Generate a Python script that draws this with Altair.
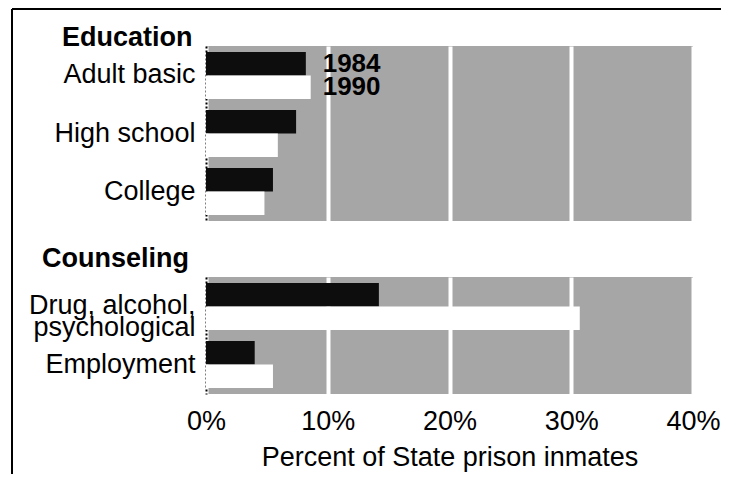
import altair as alt
import pandas as pd

FONT = "Liberation Sans"

# ---- data ----
years = ["1984", "1990"]
edu_categories = ["Adult basic", "High school", "College"]
edu_1984 = [8.2, 7.4, 5.5]
edu_1990 = [8.6, 5.9, 4.8]
cou_categories = ["Drug, alcohol, psychological", "Employment"]
cou_1984 = [14.2, 4.0]
cou_1990 = [30.7, 5.5]
x_ticks = [0, 10, 20, 30, 40]
group_titles = ["Education", "Counseling"]


def to_long(cats, v84, v90):
    rows = []
    for c, a, b in zip(cats, v84, v90):
        rows.append({"category": c, "year": "1984", "value": a})
        rows.append({"category": c, "year": "1990", "value": b})
    return pd.DataFrame(rows)


edu = to_long(edu_categories, edu_1984, edu_1990)
cou = to_long(cou_categories, cou_1984, cou_1990)

ann = pd.DataFrame({
    "category": [edu_categories[0]] * 2,
    "year": years,
    "text": years,
    "lx": [max(edu_1984[0], edu_1990[0])] * 2,
})

x_scale = alt.Scale(domain=[0, 40], nice=False, zero=True)
color = alt.Color("year:N", scale=alt.Scale(domain=years, range=["#0d0d0d", "#ffffff"]), legend=None)
y_offset = alt.YOffset("year:N", sort=years, scale=alt.Scale(paddingInner=0, paddingOuter=0))

label_expr = ("datum.label == 'Drug, alcohol, psychological' ? "
              "['Drug, alcohol,', 'psychological'] : datum.label")


def y_enc(cats):
    return alt.Y(
        "category:N", sort=cats, title=None,
        scale=alt.Scale(paddingInner=0.19, paddingOuter=0.103),
        axis=alt.Axis(title=None, ticks=False, domain=True, domainDash=[2, 2],
                      domainWidth=2, domainColor="black", labelFont=FONT,
                      labelFontSize=27, labelColor="black", labelPadding=11,
                      labelLineHeight=22, labelExpr=label_expr),
    )


x_axis_plain = alt.Axis(values=x_ticks, labels=False, ticks=False, domain=False,
                        title=None, grid=True, gridColor="white", gridWidth=4)
x_axis_full = alt.Axis(values=x_ticks, labelExpr="datum.value + '%'",
                       title="Percent of State prison inmates", grid=True,
                       gridColor="white", gridWidth=4, ticks=False, domain=False,
                       labelFont=FONT, labelFontSize=27, labelColor="black",
                       labelFlush=False, labelPadding=14, titleFont=FONT,
                       titleFontSize=27, titleFontWeight="normal",
                       titleColor="black", titlePadding=10)

edu_bars = alt.Chart(edu).mark_bar().encode(
    x=alt.X("value:Q", scale=x_scale, axis=x_axis_plain, title=None),
    y=y_enc(edu_categories),
    yOffset=y_offset,
    color=color,
)

edu_text = alt.Chart(ann).mark_text(
    align="left", baseline="middle", dx=12, font=FONT, fontSize=26,
    fontWeight="bold", color="black",
).encode(
    x=alt.X("lx:Q", scale=x_scale, axis=x_axis_plain, title=None),
    y=y_enc(edu_categories),
    yOffset=y_offset,
    text="text:N",
)

one = pd.DataFrame({"k": [0]})
left_line = alt.Chart(one).mark_rule(color="black", strokeWidth=2).encode(
    x=alt.value(-194), y=alt.value(-37), y2=alt.value(428))
top_line = alt.Chart(one).mark_rule(color="black", strokeWidth=2).encode(
    x=alt.value(-194), x2=alt.value(515), y=alt.value(-37))


def heading(text, dx, dy):
    return alt.Chart(pd.DataFrame({"t": [text]})).mark_text(
        align="left", baseline="alphabetic", font=FONT, fontSize=27,
        fontWeight="bold", color="black",
    ).encode(x=alt.value(dx), y=alt.value(dy), text="t:N")


edu_chart = alt.layer(
    edu_bars, edu_text, left_line, top_line, heading(group_titles[0], -144, 0)
).properties(width=487, height=175)

cou_bars = alt.Chart(cou).mark_bar().encode(
    x=alt.X("value:Q", scale=x_scale, axis=x_axis_full),
    y=y_enc(cou_categories),
    yOffset=y_offset,
    color=color,
)

cou_chart = alt.layer(cou_bars, heading(group_titles[1], -164, -10)).properties(
    width=487, height=117)

chart = alt.vconcat(edu_chart, cou_chart, spacing=56, bounds="flush").properties(
    padding={"left": 3, "top": 0, "right": 0, "bottom": 0},
    background="white",
).configure_view(fill="#a6a6a6", stroke=None)

chart.save("out.html", embed_options={"renderer": "svg", "actions": False})
